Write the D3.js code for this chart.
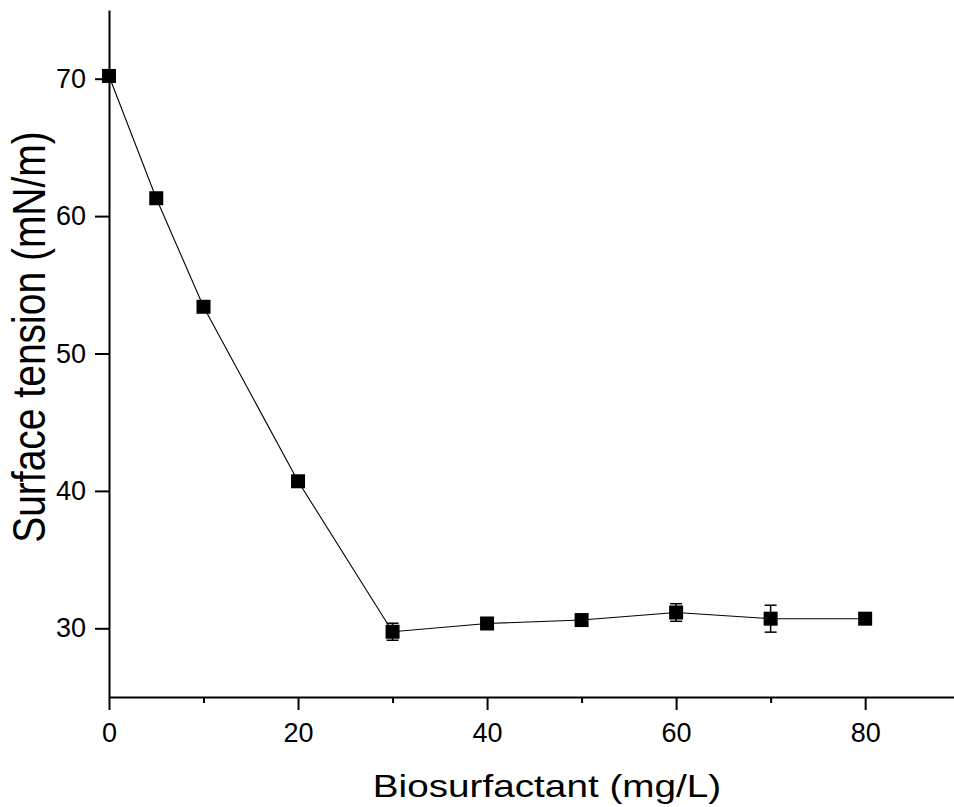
<!DOCTYPE html>
<html>
<head>
<meta charset="utf-8">
<script src="https://cdn.jsdelivr.net/npm/d3@7"></script>
<style>
  body { margin: 0; background: #fff; }
  svg { display: block; font-family: "Liberation Sans", Arial, sans-serif; }
  .domain { stroke-width: 2px; }
  .tick line { stroke-width: 2px; }
</style>
</head>
<body>
<div id="chart"></div>
<script>
// concentration (mg/L)
const conc = [0, 5, 10, 20, 30, 40, 50, 60, 70, 80]
// surface tension (mN/m)
const tension = [70.2, 61.3, 53.4, 40.7, 29.75, 30.35, 30.6, 31.15, 30.7, 30.7]
// standard deviation
const errs = [0.2, 0.3, 0.3, 0.3, 0.62, 0.2, 0.2, 0.64, 0.98, 0.2]
const xMajor = [0, 20, 40, 60, 80]
const xMinor = [10, 30, 50, 70]
const yTicks = [30, 40, 50, 60, 70]

const width = 954
const height = 807
const margin = { top: 10, right: 0, bottom: 110, left: 109 }

const svg = d3.select('#chart').append('svg')
  .attr('width', width)
  .attr('height', height)

const x = d3.scaleLinear()
  .domain([0, 89.4])
  .range([margin.left, width - margin.right])

const y = d3.scaleLinear()
  .domain([25, 75])
  .range([height - margin.bottom, margin.top])

// x axis, minor ticks first
svg.append('g')
  .attr('transform', `translate(0,${y(25)})`)
  .call(d3.axisBottom(x).tickValues(xMinor).tickSize(6).tickSizeOuter(0).tickFormat(''))
  .call(g => g.select('.domain').remove())

svg.append('g')
  .attr('transform', `translate(0,${y(25)})`)
  .call(d3.axisBottom(x).tickValues(xMajor).tickSize(13).tickSizeOuter(0).tickPadding(13))
  .call(g => g.selectAll('text').attr('font-size', 27).attr('fill', '#000').attr('font-family', null))

svg.append('g')
  .attr('transform', `translate(${x(0)},0)`)
  .call(d3.axisLeft(y).tickValues(yTicks).tickSize(14).tickSizeOuter(0).tickPadding(9))
  .call(g => g.selectAll('text').attr('font-size', 27).attr('fill', '#000').attr('font-family', null))

const pts = conc.map((c, i) => ({ c, t: tension[i], e: errs[i] }))

svg.append('path')
  .datum(pts)
  .attr('fill', 'none')
  .attr('stroke', '#000')
  .attr('stroke-width', 1.1)
  .attr('d', d3.line().x(d => x(d.c)).y(d => y(d.t)))

const eb = svg.append('g').attr('stroke', '#000').attr('stroke-width', 1.5)
eb.selectAll('.bar')
  .data(pts)
  .join('line')
  .attr('x1', d => x(d.c)).attr('x2', d => x(d.c))
  .attr('y1', d => y(d.t - d.e)).attr('y2', d => y(d.t + d.e))
eb.selectAll('.capTop')
  .data(pts)
  .join('line')
  .attr('x1', d => x(d.c) - 6).attr('x2', d => x(d.c) + 6)
  .attr('y1', d => y(d.t + d.e)).attr('y2', d => y(d.t + d.e))
eb.selectAll('.capBot')
  .data(pts)
  .join('line')
  .attr('x1', d => x(d.c) - 6).attr('x2', d => x(d.c) + 6)
  .attr('y1', d => y(d.t - d.e)).attr('y2', d => y(d.t - d.e))

svg.selectAll('.marker')
  .data(pts)
  .join('rect')
  .attr('x', d => x(d.c) - 7)
  .attr('y', d => y(d.t) - 7)
  .attr('width', 14)
  .attr('height', 14)
  .attr('fill', '#000')

// titles are a bit wider than the font, as in the source image
svg.append('text')
  .attr('transform', 'translate(547,797) scale(1.21,1)')
  .attr('text-anchor', 'middle')
  .attr('font-size', 32)
  .text('Biosurfactant (mg/L)')

svg.append('text')
  .attr('transform', 'translate(45,337) scale(1.2,1) rotate(-90)')
  .attr('text-anchor', 'middle')
  .attr('font-size', 39)
  .text('Surface tension (mN/m)')
</script>
</body>
</html>
